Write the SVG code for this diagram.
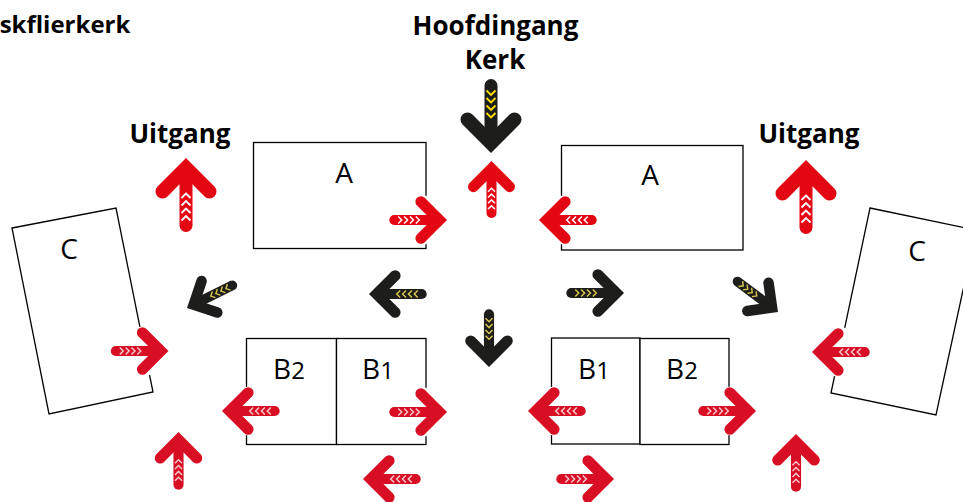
<svg xmlns="http://www.w3.org/2000/svg" width="963" height="502" viewBox="0 0 963 502">
<style>
text{font-family:"Open Sans","Liberation Sans",sans-serif;fill:#000}
.t{font-size:26px;font-weight:700;text-anchor:middle}
.s{font-size:24px}
.l{font-size:28px;text-anchor:middle}
.d{font-size:24px}
.box{fill:#fff;stroke:#000;stroke-width:1.3}
.bg{fill:#fff}
.shaft{fill:none;stroke-linecap:round;stroke-width:13}
.head{fill:none;stroke-linecap:round;stroke-linejoin:miter;stroke-miterlimit:10;stroke-width:14}
.chev{fill:none;stroke-width:1.9}
</style>
<defs>
<path id="shape-shaft" d="M0 18V67.500"/>
<path id="shape-head" d="M-23.500 33.500L0 9.900L23.500 33.500"/>
<path id="shape-chev" d="M-4.500 40L0 35.500L4.500 40M-4.500 47.500L0 43L4.500 47.500M-4.500 55L0 50.500L4.500 55M-4.500 62.500L0 58L4.500 62.500"/>
<g id="red">
<rect class="bg" x="-31" y="-1" width="62" height="76"/>
<use href="#shape-shaft" class="shaft" stroke="#e30613"/>
<use href="#shape-head" class="head" stroke="#e30613"/>
<use href="#shape-chev" class="chev" stroke="#fff"/>
</g>
<g id="red2">
<rect class="bg" x="-31" y="-1" width="62" height="76"/>
<use href="#shape-shaft" class="shaft" stroke="#d80f24"/>
<use href="#shape-head" class="head" stroke="#d80f24"/>
<use href="#shape-chev" class="chev" stroke="#f6c6cc"/>
</g>
<g id="black">
<use href="#shape-shaft" class="shaft" stroke="#1d1d1b"/>
<use href="#shape-head" class="head" stroke="#1d1d1b"/>
<use href="#shape-chev" class="chev" stroke="#ffde00"/>
</g>
<g id="black2">
<use href="#shape-shaft" class="shaft" stroke="#1d1d1b"/>
<use href="#shape-head" class="head" stroke="#1d1d1b"/>
<use href="#shape-chev" class="chev" stroke="#d8c74e"/>
</g>
</defs>
<rect width="963" height="502" fill="#fff"/>
<g id="label-skflierkerk"><text class="t s" x="65" y="33">skflierkerk</text></g>
<g id="label-hoofdingang"><text class="t" x="495.500" y="35">Hoofdingang</text><text class="t" x="495" y="69">Kerk</text></g>
<g id="label-uitgang-left"><text class="t" x="180" y="143">Uitgang</text></g>
<g id="label-uitgang-right"><text class="t" x="809" y="143">Uitgang</text></g>
<g id="node-a-left"><rect class="box" x="253.500" y="142.500" width="172.500" height="106"/><text class="l" x="344" y="183">A</text></g>
<g id="node-a-right"><rect class="box" x="561.500" y="145.500" width="181.500" height="104.500"/><text class="l" x="650" y="185">A</text></g>
<g id="node-c-left"><polygon class="box" points="12,228 116,208 153,392 49,414"/><text class="l" x="69" y="259">C</text></g>
<g id="node-c-right"><polygon class="box" points="870,208 976,230 936,415 831,393"/><text class="l" x="917" y="261">C</text></g>
<g id="node-b2-left"><rect class="box" x="246.500" y="338.500" width="90" height="106"/><text class="l" x="289" y="379">B<tspan class="d">2</tspan></text></g>
<g id="node-b1-left"><rect class="box" x="336.500" y="338.500" width="89.500" height="106"/><text class="l" x="378" y="379">B<tspan class="d">1</tspan></text></g>
<g id="node-b1-right"><rect class="box" x="551.500" y="338" width="88.500" height="106"/><text class="l" x="594" y="379">B<tspan class="d">1</tspan></text></g>
<g id="node-b2-right"><rect class="box" x="640" y="338.500" width="89" height="106"/><text class="l" x="682" y="379">B<tspan class="d">2</tspan></text></g>
<g id="connectors">
<use href="#black" transform="translate(491 153) rotate(180)"/>
<use href="#red" transform="translate(186 158)"/>
<use href="#red" transform="translate(806 160)"/>
<use href="#red" transform="translate(491.500 161) scale(.77)"/>
<use href="#red" transform="translate(447 220) rotate(90) scale(.78)"/>
<use href="#red" transform="translate(539 220) rotate(-90) scale(.78)"/>
<use href="#black2" transform="translate(187 308) rotate(-116.500) scale(.75)"/>
<use href="#black2" transform="translate(778 312) rotate(127) scale(.75)"/>
<use href="#black2" transform="translate(369 294) rotate(-90) scale(.78)"/>
<use href="#black2" transform="translate(624 293) rotate(90) scale(.78)"/>
<use href="#black2" transform="translate(489 367) rotate(180) scale(.78)"/>
<use href="#red2" transform="translate(168.500 351) rotate(90) scale(.78)"/>
<use href="#red2" transform="translate(812 352) rotate(-90) scale(.78)"/>
<use href="#red2" transform="translate(222 411) rotate(-90) scale(.78)"/>
<use href="#red2" transform="translate(447 412) rotate(90) scale(.78)"/>
<use href="#red2" transform="translate(528 411) rotate(-90) scale(.78)"/>
<use href="#red2" transform="translate(756 411) rotate(90) scale(.78)"/>
<use href="#red2" transform="translate(178.500 432) scale(.78)"/>
<use href="#red2" transform="translate(796 434) scale(.78)"/>
<use href="#red2" transform="translate(363 479) rotate(-90) scale(.78)"/>
<use href="#red2" transform="translate(614 479) rotate(90) scale(.78)"/>
</g>
</svg>
